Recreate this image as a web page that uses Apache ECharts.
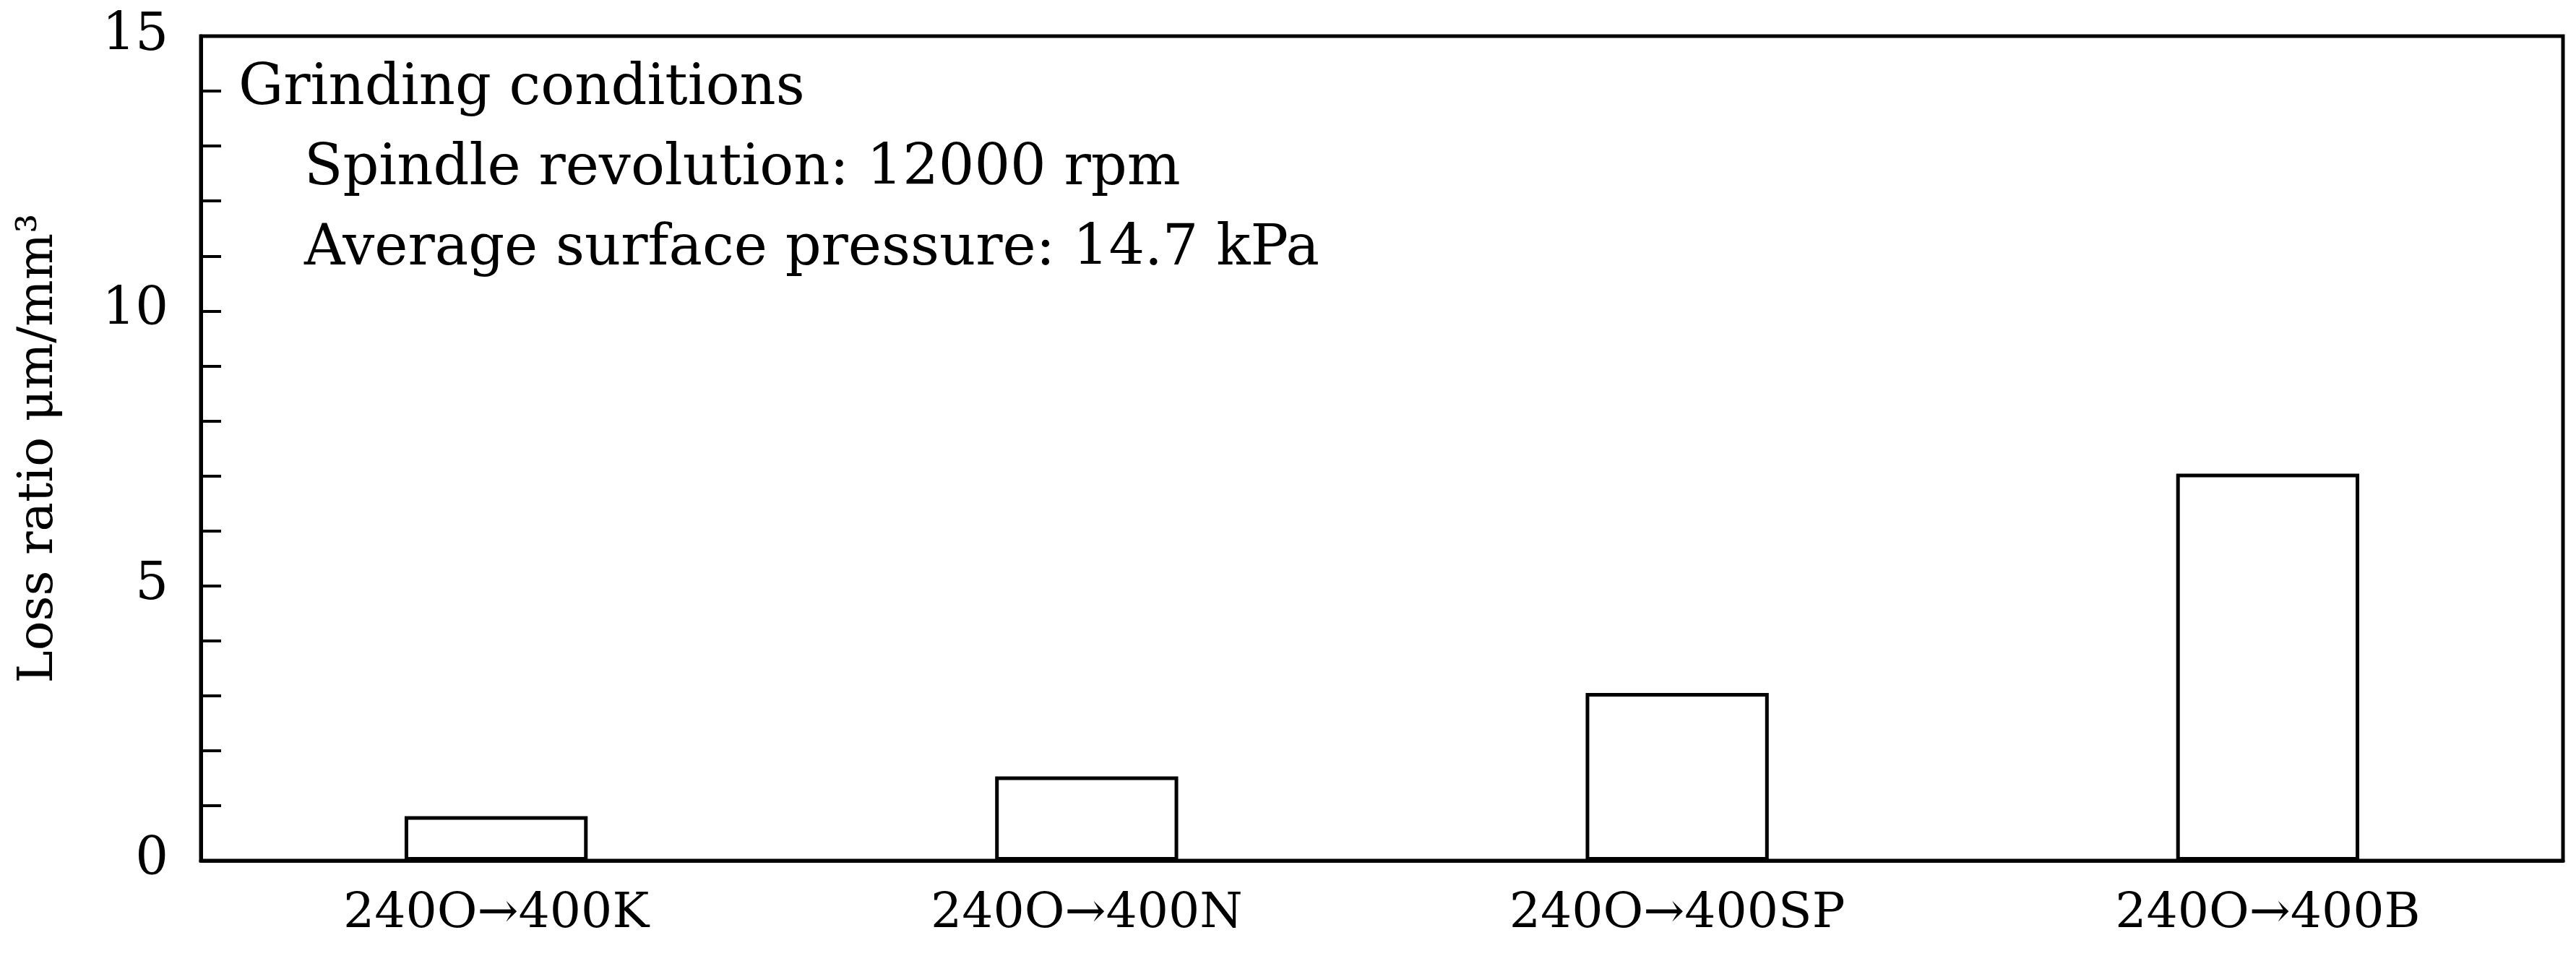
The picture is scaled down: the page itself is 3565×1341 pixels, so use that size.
<!DOCTYPE html>
<html><head><meta charset="utf-8">
<script src="https://cdn.jsdelivr.net/npm/echarts@6/dist/echarts.min.js"></script>
<style>html,body{margin:0;padding:0;background:#fff}#c{width:3565px;height:1341px}</style>
</head><body><div id="c"></div>
<script>
const categories = ['240O→400K','240O→400N','240O→400SP','240O→400B'];
const lossRatio = [0.81, 1.53, 3.05, 7.04];
const yTicks = [0, 5, 10, 15];
const notes = ['Grinding conditions','Spindle revolution: 12000 rpm','Average surface pressure: 14.7 kPa'];
const F = '"DejaVu Serif",serif';
const chart = echarts.init(document.getElementById('c'));
chart.setOption({
  animation:false,
  grid:{left:278,right:18,top:50,bottom:150,show:true,borderColor:'#000',borderWidth:5,backgroundColor:'transparent'},
  xAxis:{type:'category',data:categories,
    axisLine:{lineStyle:{color:'#000',width:5}},axisTick:{show:false},
    axisLabel:{color:'#000',fontFamily:F,fontSize:68,margin:40}},
  yAxis:{type:'value',min:yTicks[0],max:yTicks[yTicks.length-1],interval:5,
    name:'Loss ratio μm/mm³',nameLocation:'middle',nameGap:190,
    nameTextStyle:{color:'#000',fontFamily:F,fontSize:68},
    axisLine:{show:true,lineStyle:{color:'#000',width:5}},
    axisTick:{show:true,inside:true,length:28,lineStyle:{color:'#000',width:4}},
    minorTick:{show:true,splitNumber:5,length:28,lineStyle:{color:'#000',width:4}},
    splitLine:{show:false},
    axisLabel:{color:'#000',fontFamily:F,fontSize:72,margin:45}},
  series:[{type:'bar',data:lossRatio,barWidth:'31%',
    itemStyle:{color:'#fff',borderColor:'#000',borderWidth:5}}],
  graphic:[
    {type:'text',left:330,top:85,style:{text:notes[0],font:'78px '+F,fill:'#000'}},
    {type:'text',left:421,top:196,style:{text:notes[1],font:'78px '+F,fill:'#000'}},
    {type:'text',left:421,top:307,style:{text:notes[2],font:'78px '+F,fill:'#000'}}
  ]
});
</script></body></html>
